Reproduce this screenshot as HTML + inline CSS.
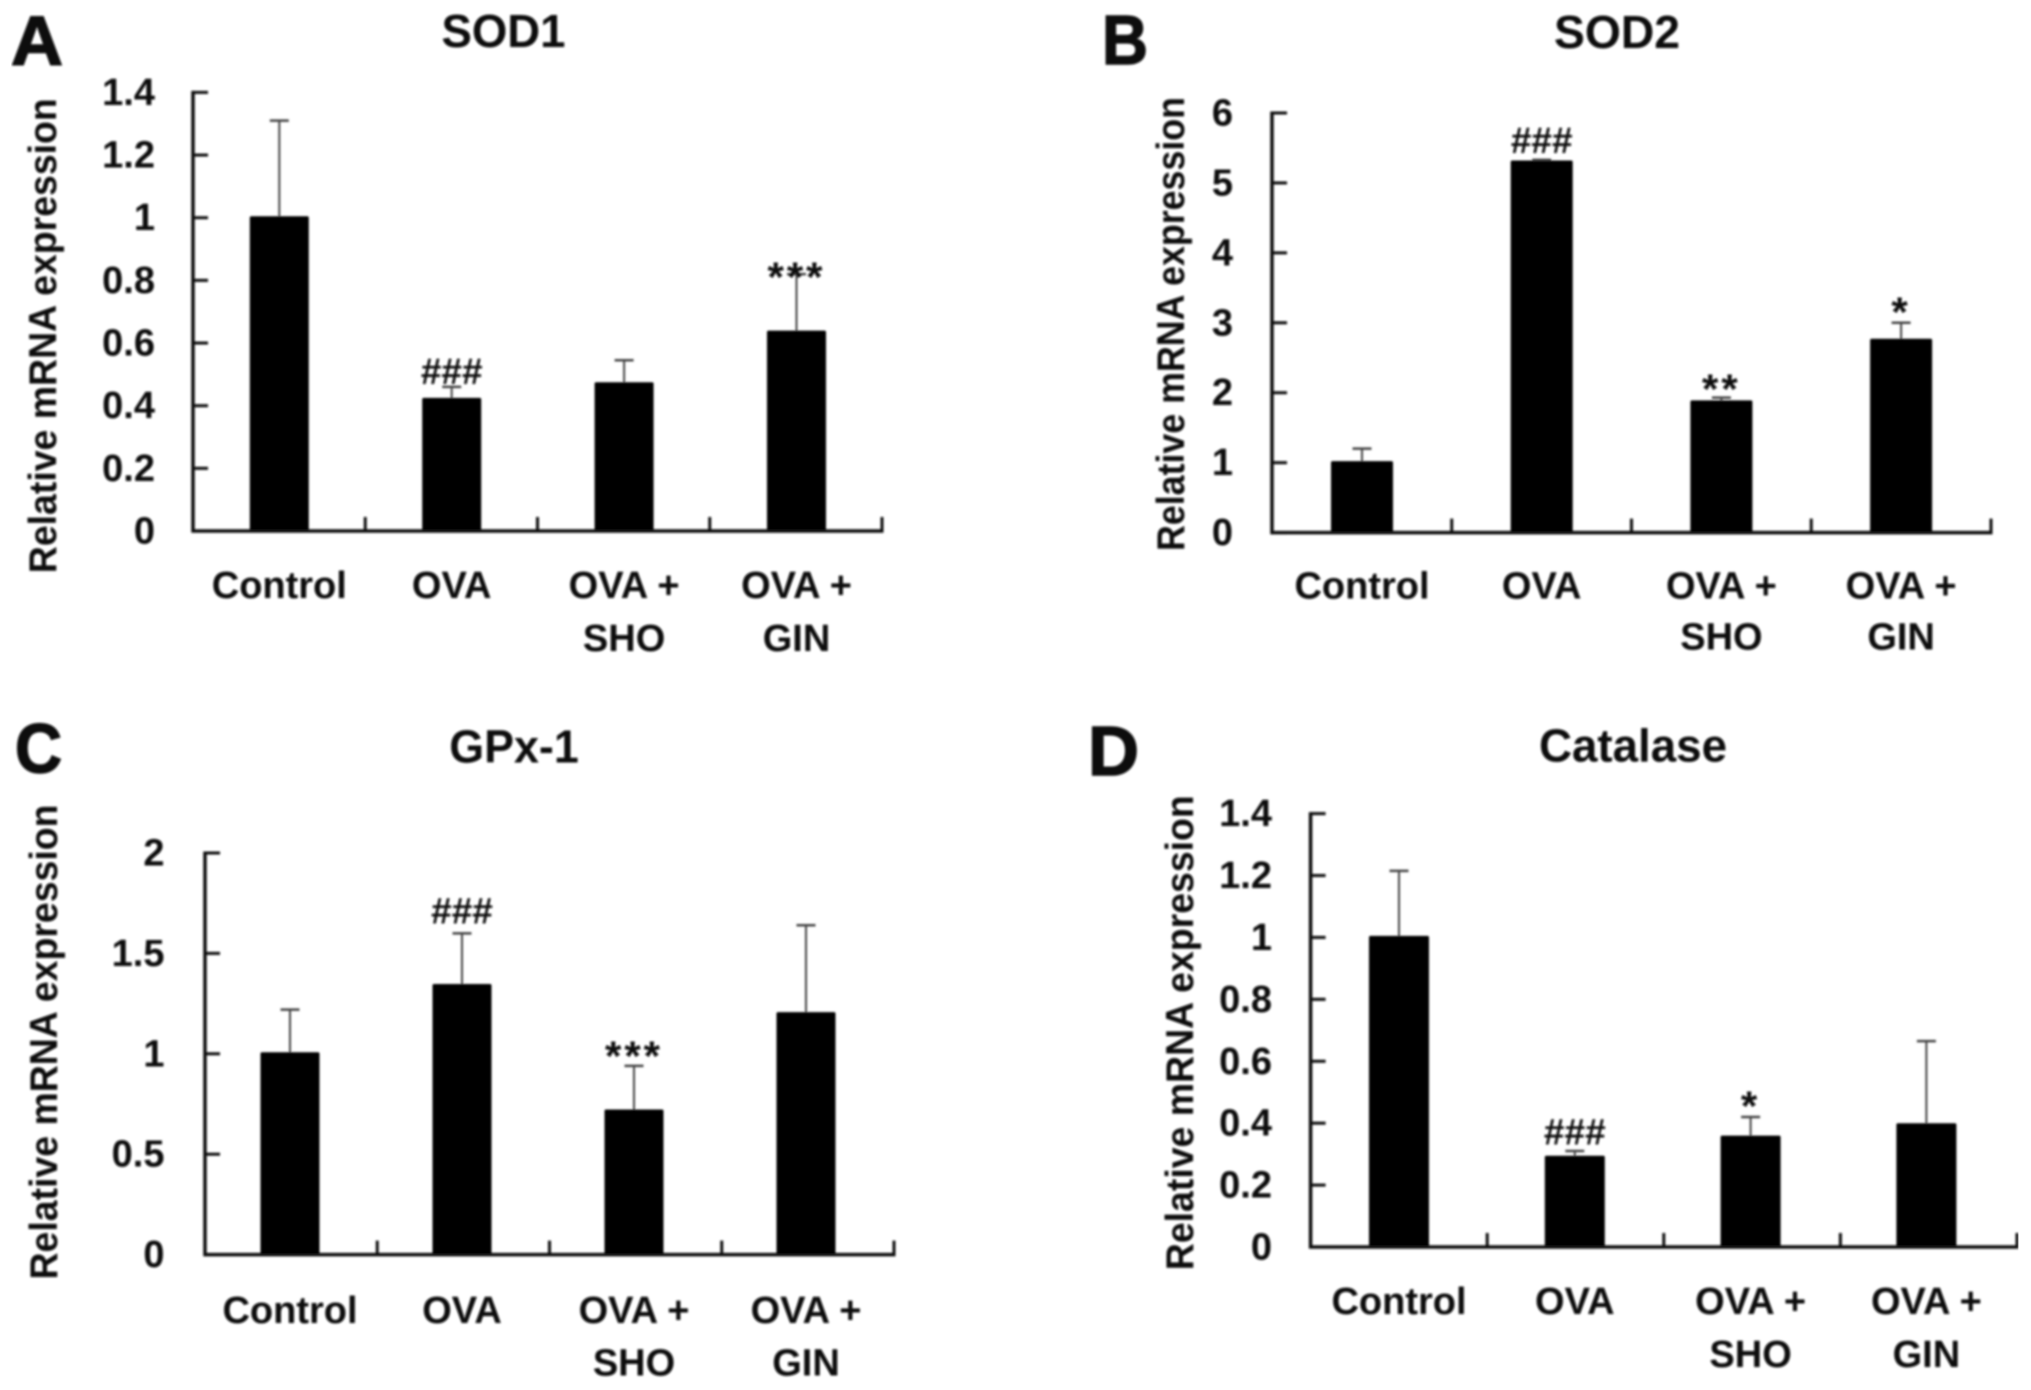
<!DOCTYPE html>
<html lang="en">
<head>
<meta charset="utf-8">
<title>Antioxidant enzyme mRNA expression</title>
<style>
html,body{margin:0;padding:0;background:#fff;}
svg{display:block;font-family:"Liberation Sans",sans-serif;}
text{fill:#0c0c0c;}
</style>
</head>
<body>
<svg id="figure" xmlns="http://www.w3.org/2000/svg" width="2031" height="1390" viewBox="0 0 2031 1390">
<defs><filter id="soft" x="0" y="0" width="100%" height="100%"><feGaussianBlur stdDeviation="1"/></filter></defs>
<g id="root" filter="url(#soft)"></g>
</svg>
<script>
const categories = [['Control'], ['OVA'], ['OVA +', 'SHO'], ['OVA +', 'GIN']];

const sod1Ticks = ['0', '0.2', '0.4', '0.6', '0.8', '1', '1.2', '1.4'];
const sod1Values = [1.0, 0.42, 0.47, 0.635];
const sod1ErrorTops = [1.31, 0.46, 0.545, 0.82];
const sod1Marks = ['', '###', '', '***'];
const sod1MarkLevels = [0, 0.508, 0, 0.828];

const sod2Ticks = ['0', '1', '2', '3', '4', '5', '6'];
const sod2Values = [1.0, 5.3, 1.87, 2.75];
const sod2ErrorTops = [1.2, 5.33, 1.93, 3.0];
const sod2Marks = ['', '###', '**', '*'];
const sod2MarkLevels = [0, 5.6, 2.13, 3.23];

const gpxTicks = ['0', '0.5', '1', '1.5', '2'];
const gpxValues = [1.0, 1.34, 0.715, 1.2];
const gpxErrorTops = [1.22, 1.6, 0.94, 1.64];
const gpxMarks = ['', '###', '***', ''];
const gpxMarkLevels = [0, 1.71, 1.014, 0];

const catalaseTicks = ['0', '0.2', '0.4', '0.6', '0.8', '1', '1.2', '1.4'];
const catalaseValues = [1.0, 0.29, 0.355, 0.395];
const catalaseErrorTops = [1.215, 0.31, 0.42, 0.665];
const catalaseMarks = ['', '###', '*', ''];
const catalaseMarkLevels = [0, 0.371, 0.473, 0];

const panels = [
  {key:'sod1', letter:'A', title:'SOD1', ticks:sod1Ticks, values:sod1Values, tops:sod1ErrorTops, marks:sod1Marks, levels:sod1MarkLevels,
   x0:193, x1:882, y0:531, yTop:92.4, barW:59, barStart:86.3, barStep:172.4, lx:11, lw:52, ly:65, tc:503.5, tw:124, tb:47,
   yb:56, yc:335.7, yl:475, tickRight:155, c1:598, c2:651},
  {key:'sod2', letter:'B', title:'SOD2', ticks:sod2Ticks, values:sod2Values, tops:sod2ErrorTops, marks:sod2Marks, levels:sod2MarkLevels,
   x0:1272, x1:1991, y0:532.6, yTop:113, barW:62, barStart:90, barStep:179.7, lx:1102, lw:46, ly:64, tc:1617, tw:126, tb:48,
   yb:1184, yc:324, yl:454, tickRight:1233, c1:598.6, c2:649.6},
  {key:'gpx', letter:'C', title:'GPx-1', ticks:gpxTicks, values:gpxValues, tops:gpxErrorTops, marks:gpxMarks, levels:gpxMarkLevels,
   x0:205, x1:894, y0:1254.6, yTop:853, barW:59, barStart:85, barStep:172, lx:15, lw:47, ly:772.6, tc:514, tw:129.5, tb:762.6,
   yb:57, yc:1042, yl:475, tickRight:164.5, c1:1322.8, c2:1375.6},
  {key:'catalase', letter:'D', title:'Catalase', ticks:catalaseTicks, values:catalaseValues, tops:catalaseErrorTops, marks:catalaseMarks, levels:catalaseMarkLevels,
   x0:1310.6, x1:2017, y0:1247, yTop:813.6, barW:60, barStart:88.4, barStep:175.8, lx:1088, lw:51, ly:774.8, tc:1633, tw:188, tb:761.7,
   yb:1193, yc:1032.7, yl:475, tickRight:1272, c1:1314, c2:1366.8}
];

const NS = 'http://www.w3.org/2000/svg';
const root = document.getElementById('root');

function make(tag, attrs, parent, name, content) {
  const el = document.createElementNS(NS, tag);
  for (const k in attrs) el.setAttribute(k, attrs[k]);
  
  
  if (content !== undefined) el.textContent = content;
  parent.appendChild(el);
  return el;
}

panels.forEach(function (p) {
  const g = make('g', {}, root, p.key + '-panel');
  const yMax = parseFloat(p.ticks[p.ticks.length - 1]);
  const yScale = function (v) { return p.y0 - (v / yMax) * (p.y0 - p.yTop); };
  const xCenter = function (i) { return p.x0 + p.barStart + i * p.barStep; };
  const xEdge = function (i) { return p.x0 + (i / categories.length) * (p.x1 - p.x0); };

  make('text', {x:p.lx, y:p.ly, 'font-size':70, 'font-weight':700, textLength:p.lw, lengthAdjust:'spacingAndGlyphs', stroke:'#0c0c0c', 'stroke-width':1.5}, g, 'panel-letter-' + p.letter.toLowerCase(), p.letter);
  make('text', {x:p.tc, y:p.tb, 'font-size':46, 'font-weight':700, 'text-anchor':'middle', textLength:p.tw, lengthAdjust:'spacingAndGlyphs'}, g, p.key + '-title', p.title);
  make('text', {transform:'translate(' + p.yb + ',' + p.yc + ') rotate(-90)', 'font-size':39, 'font-weight':700, 'text-anchor':'middle', textLength:p.yl, lengthAdjust:'spacingAndGlyphs'}, g, p.key + '-y-axis-title', 'Relative mRNA expression');

  p.values.forEach(function (v, i) {
    const cx = xCenter(i);
    const barTop = yScale(v) - 1.5;
    make('line', {x1:cx, x2:cx, y1:barTop, y2:yScale(p.tops[i]), stroke:'#444', 'stroke-width':2}, g, p.key + '-error-bar-' + i);
    make('line', {x1:cx - 9.5, x2:cx + 9.5, y1:yScale(p.tops[i]), y2:yScale(p.tops[i]), stroke:'#444', 'stroke-width':2.5}, g, p.key + '-error-cap-' + i);
    make('rect', {x:cx - p.barW / 2, y:barTop, width:p.barW, height:p.y0 - barTop, fill:'#000', rx:1.5}, g, p.key + '-bar-' + i);
    if (p.marks[i]) {
      const isHash = p.marks[i].charAt(0) === '#';
      const size = isHash ? 37 : 42;
      const lift = isHash ? 0.33 : 0.47;
      make('text', {x:cx, y:yScale(p.levels[i]) + size * lift, 'font-size':size, 'font-weight':700, 'text-anchor':'middle', 'letter-spacing':isHash ? 0 : 3}, g, p.key + '-significance-' + i, p.marks[i]);
    }
    categories[i].forEach(function (line, j) {
      make('text', {x:cx, y:j === 0 ? p.c1 : p.c2, 'font-size':38, 'font-weight':700, 'text-anchor':'middle'}, g, p.key + '-category-label-' + i + '-' + j, line);
    });
  });

  make('line', {x1:p.x0, x2:p.x0, y1:p.yTop - 1.5, y2:p.y0 + 1.5, stroke:'#111', 'stroke-width':3.5}, g, p.key + '-y-axis');
  make('line', {x1:p.x0 - 1.5, x2:p.x1 + 1.5, y1:p.y0, y2:p.y0, stroke:'#111', 'stroke-width':3.5}, g, p.key + '-x-axis');

  p.ticks.forEach(function (t, i) {
    const v = parseFloat(t);
    const y = yScale(v);
    make('line', {x1:p.x0, x2:p.x0 + 15, y1:y, y2:y, stroke:'#111', 'stroke-width':3}, g, p.key + '-y-tick-' + i);
    make('text', {x:p.tickRight, y:y + 12.5, 'font-size':38, 'font-weight':700, 'text-anchor':'end'}, g, p.key + '-y-tick-label-' + i, t);
  });
  for (let i = 1; i <= categories.length; i++) {
    make('line', {x1:xEdge(i), x2:xEdge(i), y1:p.y0, y2:p.y0 - 14, stroke:'#111', 'stroke-width':3}, g, p.key + '-x-tick-' + i);
  }
});
</script>
</body>
</html>
